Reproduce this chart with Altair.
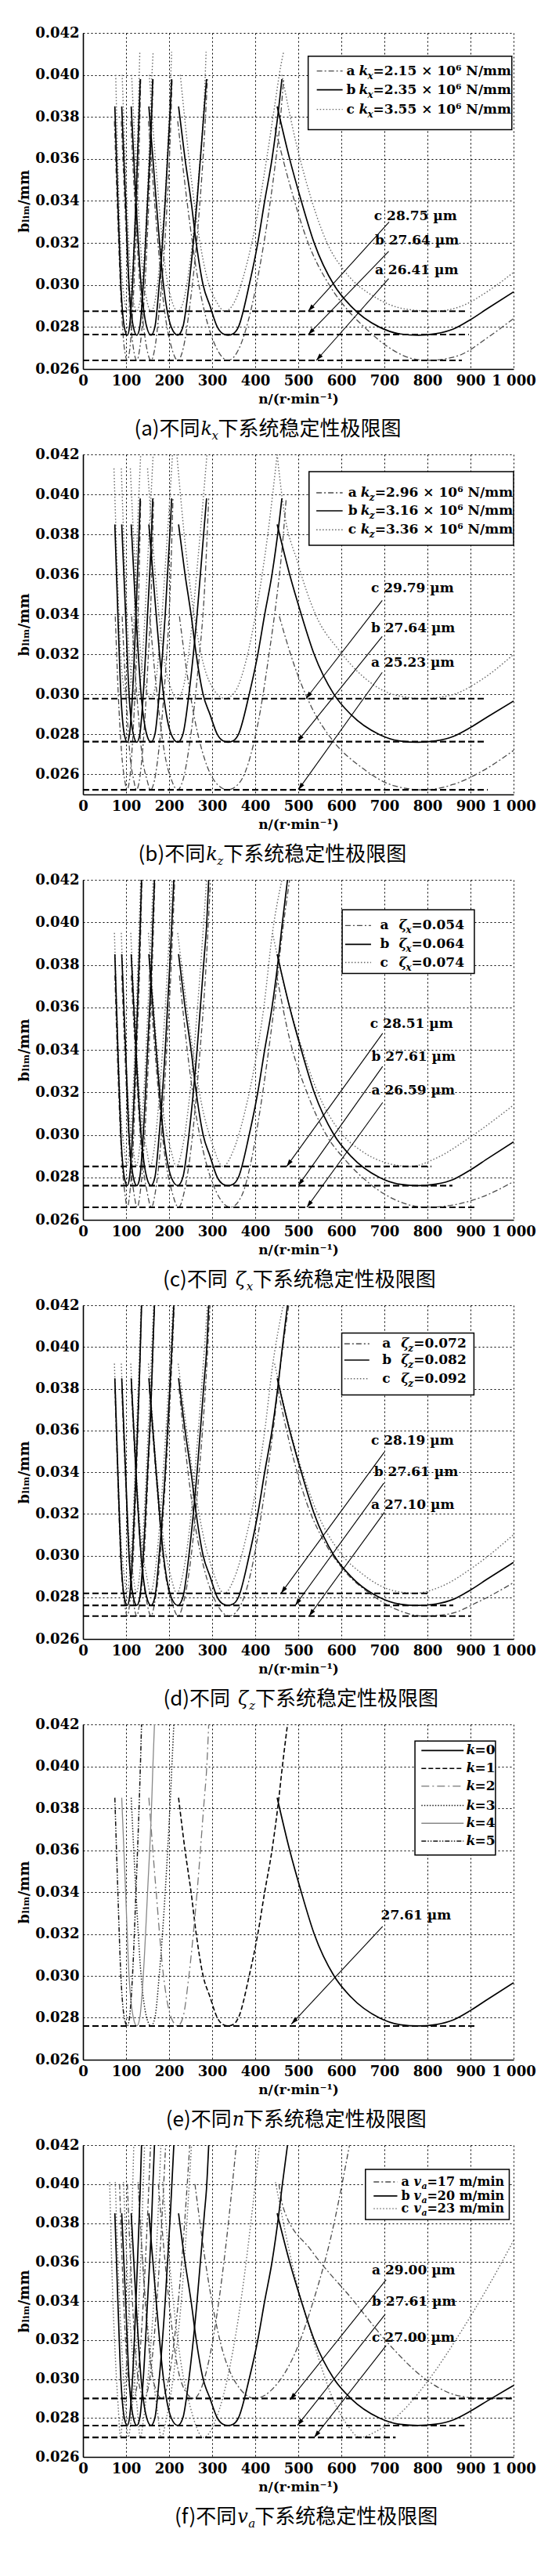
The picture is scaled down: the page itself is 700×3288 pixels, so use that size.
import math
import altair as alt
import pandas as pd

SERIF = "DejaVu Serif"
CJK = "Noto Sans CJK SC"
W = 550

N_TICKS = [0, 100, 200, 300, 400, 500, 600, 700, 800, 900, 1000]
B_TICKS = [0.026, 0.028, 0.030, 0.032, 0.034, 0.036, 0.038, 0.040, 0.042]

# ---------------- base curve (series b), identical in all panels ----------------
B_K0 = [[451, 0.0385], [480, 0.0360], [507, 0.0340], [537, 0.0320], [583, 0.0300], [622, 0.0290], [688, 0.0280],
        [737, 0.02767], [778, 0.02761], [820, 0.02768], [860, 0.0279], [900, 0.02835], [941, 0.0289], [1000, 0.02967]]
B_K1 = [[222, 0.0385], [237, 0.0360], [251, 0.0340], [263, 0.0320], [279, 0.0300], [295, 0.0290], [312, 0.0280],
        [325, 0.02768], [337, 0.02761], [349, 0.02768], [361, 0.0280], [386, 0.0300], [406, 0.0320], [422, 0.0340],
        [439, 0.0360], [455, 0.0385], [462, 0.0398], [475, 0.0420]]
B_K2 = [[153, 0.0385], [170, 0.0340], [187, 0.0300], [205, 0.0280], [220, 0.02761], [232, 0.0280], [246, 0.0300],
        [265, 0.0340], [282, 0.0385], [287, 0.0398], [292, 0.0420]]
B_K3 = [[112, 0.0385], [123, 0.0340], [135, 0.0300], [148, 0.0280], [158, 0.02761], [167, 0.0280], [177, 0.0300],
        [191, 0.0340], [203, 0.0385], [206, 0.0398], [211, 0.0420]]
B_K4 = [[90, 0.0385], [99, 0.0340], [107, 0.0300], [117, 0.0280], [125, 0.02761], [132, 0.0280], [140, 0.0300],
        [150, 0.0340], [160, 0.0385], [162, 0.0398], [166, 0.0420]]
B_K5 = [[74, 0.0385], [81, 0.0340], [88, 0.0300], [96, 0.0280], [103, 0.02761], [108, 0.0280], [115, 0.0300],
        [123, 0.0340], [131, 0.0385], [133, 0.0398], [136, 0.0420]]
B_LOBES = [B_K0, B_K1, B_K2, B_K3, B_K4, B_K5]

# ---------------- (a) different kx ----------------
KX_A = [
    [[446, 0.0375], [480, 0.0348], [523, 0.0320], [572, 0.0300], [615, 0.0288], [653, 0.0280], [720, 0.0269],
     [760, 0.02652], [800, 0.02641], [840, 0.02648], [880, 0.0267], [940, 0.0275], [1000, 0.0284]],
    [[220, 0.0378], [249, 0.0328], [265, 0.0305], [285, 0.0285], [310, 0.0270], [337, 0.02641], [363, 0.0270],
     [390, 0.0288], [410, 0.0308], [428, 0.0330], [445, 0.0355], [458, 0.0378], [466, 0.0398]],
    [[152, 0.0378], [170, 0.0330], [188, 0.0290], [206, 0.0270], [220, 0.02641], [233, 0.0270], [248, 0.0290],
     [268, 0.0330], [284, 0.0378], [289, 0.0398]],
    [[111, 0.0378], [123, 0.0330], [136, 0.0290], [148, 0.0270], [158, 0.02641], [167, 0.0270], [178, 0.0290],
     [193, 0.0330], [204, 0.0378], [207, 0.0398]],
    [[89, 0.0378], [99, 0.0330], [108, 0.0290], [117, 0.0270], [125, 0.02641], [132, 0.0270], [141, 0.0290],
     [151, 0.0330], [160, 0.0378], [163, 0.0398]],
    [[73, 0.0378], [81, 0.0330], [89, 0.0290], [96, 0.0270], [103, 0.02641], [109, 0.0270], [116, 0.0290],
     [124, 0.0330], [132, 0.0378], [134, 0.0398]],
]
KX_C = [
    [[462, 0.0400], [490, 0.0372], [520, 0.0348], [567, 0.0320], [610, 0.0306], [680, 0.0294], [750, 0.02885],
     [815, 0.02875], [880, 0.0290], [940, 0.0297], [1000, 0.0306]],
    [[226, 0.0400], [252, 0.0350], [268, 0.0325], [290, 0.0302], [310, 0.0292], [330, 0.02875], [352, 0.0292],
     [378, 0.0308], [402, 0.0330], [425, 0.0358], [445, 0.0385], [460, 0.0405], [466, 0.0411]],
    [[154, 0.0400], [172, 0.0350], [190, 0.0310], [207, 0.0292], [220, 0.02875], [233, 0.0292], [248, 0.0310],
     [268, 0.0350], [283, 0.0395], [286, 0.0411]],
    [[113, 0.0400], [125, 0.0350], [137, 0.0310], [149, 0.0292], [158, 0.02875], [167, 0.0292], [178, 0.0310],
     [193, 0.0350], [203, 0.0395], [206, 0.0411]],
    [[91, 0.0400], [100, 0.0350], [109, 0.0310], [118, 0.0292], [125, 0.02875], [132, 0.0292], [141, 0.0310],
     [151, 0.0350], [159, 0.0395], [163, 0.0411]],
    [[76, 0.0400], [82, 0.0350], [89, 0.0310], [97, 0.0292], [103, 0.02875], [109, 0.0292], [116, 0.0310],
     [124, 0.0350], [130, 0.0395], [132, 0.0411]],
]
KX_HLINES = [[0.02875, 888], [0.02764, 896], [0.02641, 880]]
KX_LABELS = [["c 28.75  µm", 676, 0.03327], ["b 27.64  µm", 678, 0.0321], ["a 26.41  µm", 678, 0.0307]]
KX_ARROWS = [[711, 0.0330, 523, 0.02875], [710, 0.0316, 523, 0.02764], [710, 0.0303, 542, 0.02641]]
KX_LEG_BOX = [523, 996, 0.04089, 0.03739]
KX_LEG_ROWS = [["a", "k", "x", "=2.15 × 10⁶ N/mm"], ["b", "k", "x", "=2.35 × 10⁶ N/mm"],
               ["c", "k", "x", "=3.55 × 10⁶ N/mm"]]
KX_LEG_B = [0.04019, 0.03929, 0.03836]
KX_LEG_N = [543, 603, 612]

# ---------------- (b) different kz ----------------
KZ_A = [
    [[456, 0.0339], [490, 0.0315], [530, 0.0294], [580, 0.0277], [650, 0.0263], [720, 0.02545], [790, 0.02523],
     [860, 0.0255], [930, 0.0262], [1000, 0.0272]],
    [[224, 0.0339], [242, 0.0310], [260, 0.0287], [282, 0.0268], [308, 0.0256], [336, 0.02523], [364, 0.0256],
     [390, 0.0270], [412, 0.0292], [432, 0.0320], [448, 0.0345], [462, 0.0372], [472, 0.0398]],
    [[155, 0.0339], [172, 0.0300], [190, 0.0270], [206, 0.0257], [219, 0.02523], [232, 0.0257], [248, 0.0276],
     [267, 0.0312], [283, 0.0355], [292, 0.0398]],
    [[113, 0.0339], [125, 0.0300], [137, 0.0270], [149, 0.0257], [157, 0.02523], [166, 0.0257], [178, 0.0276],
     [192, 0.0312], [203, 0.0355], [209, 0.0398]],
    [[91, 0.0339], [100, 0.0300], [109, 0.0270], [118, 0.0257], [124, 0.02523], [131, 0.0257], [140, 0.0276],
     [150, 0.0312], [159, 0.0355], [164, 0.0398]],
    [[75, 0.0339], [82, 0.0300], [90, 0.0270], [97, 0.0257], [102, 0.02523], [108, 0.0257], [115, 0.0276],
     [123, 0.0312], [130, 0.0355], [134, 0.0398]],
]
KZ_C = [
    [[451, 0.0420], [464, 0.0396], [500, 0.0365], [540, 0.0340], [595, 0.0322], [650, 0.0309], [720, 0.0300],
     [790, 0.02979], [860, 0.0300], [930, 0.0308], [1000, 0.0320]],
    [[218, 0.0420], [240, 0.0370], [258, 0.0340], [280, 0.0315], [305, 0.0302], [330, 0.02979], [355, 0.0302],
     [380, 0.0318], [405, 0.0345], [428, 0.0378], [451, 0.0420]],
    [[150, 0.0413], [168, 0.0360], [188, 0.0318], [206, 0.0302], [218, 0.02979], [231, 0.0302], [248, 0.0325],
     [268, 0.0370], [288, 0.0420]],
    [[110, 0.0413], [122, 0.0360], [135, 0.0318], [148, 0.0302], [157, 0.02979], [166, 0.0302], [178, 0.0325],
     [193, 0.0370], [208, 0.0420]],
    [[89, 0.0413], [98, 0.0360], [108, 0.0318], [117, 0.0302], [124, 0.02979], [131, 0.0302], [140, 0.0325],
     [151, 0.0370], [163, 0.0420]],
    [[72, 0.0413], [80, 0.0360], [88, 0.0318], [96, 0.0302], [102, 0.02979], [108, 0.0302], [116, 0.0325],
     [124, 0.0370], [134, 0.0420]],
]
KZ_HLINES = [[0.02979, 934], [0.02764, 934], [0.02523, 940]]
KZ_LABELS = [["c 29.79  µm", 669, 0.03531], ["b 27.64  µm", 669, 0.03332], ["a 25.23  µm", 669, 0.0316]]
KZ_ARROWS = [[695, 0.0347, 518, 0.02979], [695, 0.0329, 498, 0.02764], [695, 0.0311, 500, 0.02523]]
KZ_LEG_BOX = [525, 1000, 0.04114, 0.03746]
KZ_LEG_ROWS = [["a", "k", "z", "=2.96 × 10⁶ N/mm"], ["b", "k", "z", "=3.16 × 10⁶ N/mm"],
               ["c", "k", "z", "=3.36 × 10⁶ N/mm"]]
KZ_LEG_B = [0.04008, 0.03918, 0.03823]
KZ_LEG_N = [542, 603, 616]

# ---------------- (c) different zeta_x ----------------
ZX_A = [
    [[450, 0.0375], [480, 0.0345], [520, 0.0320], [565, 0.0300], [610, 0.0288], [660, 0.0278], [730, 0.0269],
     [797, 0.02659], [860, 0.0267], [930, 0.0271], [1000, 0.0278]],
    [[224, 0.0375], [245, 0.0335], [262, 0.0310], [282, 0.0290], [310, 0.0273], [343, 0.02659], [370, 0.0272],
     [391, 0.0288], [410, 0.0310], [428, 0.0335], [445, 0.0362], [460, 0.0390], [480, 0.0420]],
    [[154, 0.0375], [171, 0.0330], [189, 0.0292], [207, 0.0273], [222, 0.02659], [235, 0.0273], [250, 0.0292],
     [270, 0.0335], [286, 0.0380], [296, 0.0420]],
    [[112, 0.0375], [124, 0.0330], [136, 0.0292], [149, 0.0273], [159, 0.02659], [168, 0.0273], [179, 0.0292],
     [193, 0.0335], [205, 0.0380], [213, 0.0420]],
    [[90, 0.0375], [99, 0.0330], [108, 0.0292], [118, 0.0273], [126, 0.02659], [133, 0.0273], [141, 0.0292],
     [152, 0.0335], [161, 0.0380], [167, 0.0420]],
    [[74, 0.0375], [81, 0.0330], [89, 0.0292], [97, 0.0273], [103, 0.02659], [109, 0.0273], [116, 0.0292],
     [124, 0.0335], [132, 0.0380], [137, 0.0420]],
]
ZX_C = [
    [[440, 0.0395], [470, 0.0368], [505, 0.0343], [545, 0.0320], [595, 0.0302], [650, 0.0292], [710, 0.02865],
     [760, 0.02851], [820, 0.0289], [900, 0.0299], [1000, 0.0314]],
    [[220, 0.0395], [240, 0.0362], [257, 0.0337], [275, 0.0315], [300, 0.0296], [325, 0.02851], [350, 0.0293],
     [375, 0.0310], [398, 0.0332], [420, 0.0360], [440, 0.0395], [462, 0.0420]],
    [[152, 0.0395], [170, 0.0345], [187, 0.0310], [204, 0.0293], [217, 0.02851], [230, 0.0293], [246, 0.0315],
     [266, 0.0360], [287, 0.0420]],
    [[111, 0.0395], [123, 0.0345], [135, 0.0310], [148, 0.0293], [156, 0.02851], [165, 0.0293], [176, 0.0315],
     [191, 0.0360], [207, 0.0420]],
    [[89, 0.0395], [98, 0.0345], [107, 0.0310], [117, 0.0293], [124, 0.02851], [131, 0.0293], [140, 0.0315],
     [151, 0.0360], [163, 0.0420]],
    [[73, 0.0395], [81, 0.0345], [88, 0.0310], [96, 0.0293], [102, 0.02851], [108, 0.0293], [115, 0.0315],
     [124, 0.0360], [134, 0.0420]],
]
ZX_HLINES = [[0.02851, 809], [0.02761, 858], [0.02659, 915]]
ZX_LABELS = [["c 28.51  µm", 667, 0.03522], ["b 27.61  µm", 670, 0.03367], ["a 26.59  µm", 670, 0.03207]]
ZX_ARROWS = [[696, 0.03478, 473, 0.02851], [696, 0.03322, 500, 0.02761], [696, 0.03152, 520, 0.02659]]
ZX_LEG_BOX = [602, 909, 0.04059, 0.03759]
ZX_LEG_ROWS = [["a", "ζ", "x", "=0.054"], ["b", "ζ", "x", "=0.064"], ["c", "ζ", "x", "=0.074"]]
ZX_LEG_B = [0.03985, 0.03896, 0.03811]
ZX_LEG_N = [609, 669, 690]

# ---------------- (d) different zeta_z ----------------
ZZ_A = [
    [[452, 0.0380], [482, 0.0352], [520, 0.0325], [565, 0.0305], [610, 0.0292], [665, 0.0282], [730, 0.0274],
     [790, 0.0271], [850, 0.0272], [920, 0.0278], [1000, 0.0287]],
    [[223, 0.0380], [244, 0.0340], [261, 0.0314], [281, 0.0294], [308, 0.0278], [340, 0.0271], [368, 0.0277],
     [390, 0.0292], [409, 0.0313], [427, 0.0338], [444, 0.0364], [458, 0.0390], [478, 0.0420]],
    [[154, 0.0380], [171, 0.0335], [188, 0.0296], [206, 0.0278], [221, 0.0271], [234, 0.0278], [249, 0.0296],
     [269, 0.0338], [285, 0.0382], [295, 0.0420]],
    [[112, 0.0380], [124, 0.0335], [136, 0.0296], [148, 0.0278], [158, 0.0271], [167, 0.0278], [178, 0.0296],
     [192, 0.0338], [204, 0.0382], [212, 0.0420]],
    [[90, 0.0380], [99, 0.0335], [108, 0.0296], [117, 0.0278], [125, 0.0271], [132, 0.0278], [141, 0.0296],
     [151, 0.0338], [160, 0.0382], [166, 0.0420]],
    [[74, 0.0380], [81, 0.0335], [88, 0.0296], [96, 0.0278], [103, 0.0271], [109, 0.0278], [116, 0.0296],
     [124, 0.0338], [131, 0.0382], [136, 0.0420]],
]
ZZ_C = [
    [[445, 0.0392], [475, 0.0365], [505, 0.0343], [545, 0.0320], [595, 0.0302], [650, 0.0291], [715, 0.02835],
     [770, 0.02819], [830, 0.0285], [910, 0.0295], [1000, 0.0310]],
    [[221, 0.0392], [241, 0.0360], [258, 0.0335], [276, 0.0313], [301, 0.0293], [328, 0.02819], [353, 0.0290],
     [378, 0.0308], [400, 0.0330], [421, 0.0358], [441, 0.0392], [465, 0.0420]],
    [[152, 0.0392], [170, 0.0343], [187, 0.0308], [204, 0.0290], [218, 0.02819], [231, 0.0290], [247, 0.0312],
     [267, 0.0358], [289, 0.0420]],
    [[111, 0.0392], [123, 0.0343], [135, 0.0308], [148, 0.0290], [157, 0.02819], [166, 0.0290], [177, 0.0312],
     [192, 0.0358], [209, 0.0420]],
    [[89, 0.0392], [98, 0.0343], [107, 0.0308], [117, 0.0290], [124, 0.02819], [131, 0.0290], [140, 0.0312],
     [151, 0.0358], [164, 0.0420]],
    [[73, 0.0392], [81, 0.0343], [88, 0.0308], [96, 0.0290], [102, 0.02819], [108, 0.0290], [115, 0.0312],
     [124, 0.0358], [135, 0.0420]],
]
ZZ_HLINES = [[0.02819, 803], [0.02761, 860], [0.0271, 900]]
ZZ_LABELS = [["c 28.19  µm", 669, 0.03552], ["b 27.61  µm", 676, 0.0340], ["a 27.10  µm", 669, 0.03244]]
ZZ_ARROWS = [[700, 0.03496, 460, 0.02819], [699, 0.03348, 493, 0.02761], [700, 0.03207, 525, 0.0271]]
ZZ_LEG_BOX = [601, 908, 0.04067, 0.0377]
ZZ_LEG_ROWS = [["a", "ζ", "z", "=0.072"], ["b", "ζ", "z", "=0.082"], ["c", "ζ", "z", "=0.092"]]
ZZ_LEG_B = [0.04015, 0.03937, 0.03848]
ZZ_LEG_N = [607, 665, 695]

# ---------------- (e) different lobe number k ----------------
E_HLINES = [[0.02761, 912]]
E_LABELS = [["27.61  µm", 692, 0.03289]]
E_ARROWS = [[696, 0.03236, 484, 0.0277]]
E_LEG_BOX = [771, 958, 0.04121, 0.03577]
E_LEG_ROWS = [["", "k", "", "=0"], ["", "k", "", "=1"], ["", "k", "", "=2"], ["", "k", "", "=3"],
              ["", "k", "", "=4"], ["", "k", "", "=5"]]
E_LEG_B = [0.04075, 0.0399, 0.03905, 0.03813, 0.03728, 0.03643]
E_LEG_N = [786, 884, 890]

# ---------------- (f) different va ----------------
VA_A = [
    [[455, 0.0400], [465, 0.0388], [530, 0.0366], [625, 0.0341], [710, 0.0318], [801, 0.0299], [870, 0.02915],
     [930, 0.0290], [1000, 0.02905]],
    [[260, 0.0400], [290, 0.0352], [320, 0.0318], [355, 0.0298], [400, 0.0290], [445, 0.0296], [490, 0.0312],
     [535, 0.0340], [575, 0.0372], [619, 0.0420]],
    [[175, 0.0400], [196, 0.0348], [218, 0.0308], [240, 0.0293], [258, 0.0290], [276, 0.0296], [300, 0.0318],
     [330, 0.0365], [356, 0.0420]],
    [[128, 0.0400], [142, 0.0348], [157, 0.0308], [172, 0.0293], [183, 0.0290], [195, 0.0296], [211, 0.0318],
     [231, 0.0365], [248, 0.0420]],
    [[103, 0.0400], [113, 0.0348], [124, 0.0308], [135, 0.0293], [143, 0.0290], [152, 0.0296], [164, 0.0318],
     [179, 0.0365], [192, 0.0420]],
    [[85, 0.0400], [93, 0.0348], [102, 0.0308], [111, 0.0293], [118, 0.0290], [125, 0.0296], [134, 0.0318],
     [146, 0.0365], [157, 0.0420]],
]
VA_C = [
    [[447, 0.0401], [490, 0.0355], [533, 0.0321], [580, 0.0290], [615, 0.0276], [643, 0.0270], [680, 0.0273],
     [740, 0.0283], [801, 0.0299], [880, 0.0325], [940, 0.0347], [1000, 0.0371]],
    [[185, 0.0401], [205, 0.0350], [225, 0.0312], [250, 0.0285], [280, 0.0270], [310, 0.0280], [340, 0.0305],
     [370, 0.0345], [395, 0.0390], [410, 0.0420]],
    [[128, 0.0401], [142, 0.0350], [157, 0.0312], [172, 0.0285], [182, 0.0270], [194, 0.0280], [212, 0.0305],
     [232, 0.0350], [252, 0.0420]],
    [[94, 0.0401], [104, 0.0350], [115, 0.0312], [126, 0.0285], [133, 0.0270], [141, 0.0280], [153, 0.0305],
     [167, 0.0350], [181, 0.0420]],
    [[75, 0.0401], [83, 0.0350], [91, 0.0312], [99, 0.0285], [105, 0.0270], [112, 0.0280], [121, 0.0305],
     [132, 0.0350], [143, 0.0420]],
    [[62, 0.0401], [68, 0.0350], [75, 0.0312], [82, 0.0285], [87, 0.0270], [92, 0.0280], [100, 0.0305],
     [109, 0.0350], [118, 0.0420]],
]
VA_HLINES = [[0.0290, 996], [0.02761, 886], [0.0270, 726]]
VA_LABELS = [["a 29.00  µm", 671, 0.03557], ["b 27.61  µm", 671, 0.03396], ["c 27.00  µm", 671, 0.03211]]
VA_ARROWS = [[704, 0.03509, 481, 0.02893], [702, 0.03332, 498, 0.02761], [704, 0.03171, 537, 0.0270]]
VA_LEG_BOX = [656, 990, 0.04075, 0.03818]
VA_LEG_ROWS = [["a", "v", "a", "=17 m/min"], ["b", "v", "a", "=20 m/min"], ["c", "v", "a", "=23 m/min"]]
VA_LEG_B = [0.04011, 0.03939, 0.03874]
VA_LEG_N = [675, 730, 739]

CAPTIONS = [
    ["(a)不同", "k", "x", "下系统稳定性极限图"],
    ["(b)不同", "k", "z", "下系统稳定性极限图"],
    ["(c)不同", "ζ", "x", "下系统稳定性极限图"],
    ["(d)不同", "ζ", "z", "下系统稳定性极限图"],
    ["(e)不同", "n", "", "下系统稳定性极限图"],
    ["(f)不同", "v", "a", "下系统稳定性极限图"],
]
CAPTION_N = [272, 284, 336, 342, 345, 357]

# ---------------- styles ----------------
STY_A = {"color": "#4a4a4a", "strokeDash": [7, 3, 2, 3], "strokeWidth": 1.3}
STY_B = {"color": "#000000", "strokeWidth": 1.7}
STY_C = {"color": "#666666", "strokeDash": [1.5, 2.5], "strokeWidth": 1.4}
E_STY = [
    {"color": "#000000", "strokeWidth": 1.7},
    {"color": "#000000", "strokeDash": [6, 3], "strokeWidth": 1.6},
    {"color": "#777777", "strokeDash": [10, 4, 2, 4], "strokeWidth": 1.3},
    {"color": "#222222", "strokeDash": [1.5, 2], "strokeWidth": 1.5},
    {"color": "#888888", "strokeWidth": 1.3},
    {"color": "#111111", "strokeDash": [6, 2, 1.5, 2, 1.5, 2], "strokeWidth": 1.5},
]

AX_X = alt.Axis(values=N_TICKS, title="n/(r·min⁻¹)", grid=True, gridColor="black", gridDash=[2, 3],
                gridWidth=1, gridOpacity=1, domainColor="black", domainWidth=1.6, ticks=False,
                labelFont=SERIF, labelFontWeight="bold", labelFontSize=18, labelColor="black",
                labelPadding=6, labelFlush=False, labelOverlap=False,
                labelExpr="datum.value == 1000 ? '1 000' : datum.label",
                titleFont=SERIF, titleFontSize=17, titleFontWeight="bold", titleColor="black",
                titlePadding=6)
AX_Y = alt.Axis(values=B_TICKS, format=".3f", title="bₗᵢₘ/mm", grid=True, gridColor="black",
                gridDash=[2, 3], gridWidth=1, gridOpacity=1, domainColor="black", domainWidth=1.6,
                ticks=False, labelFont=SERIF, labelFontWeight="bold", labelFontSize=18,
                labelColor="black", labelPadding=5, labelOverlap=False,
                titleFont=SERIF, titleFontSize=18, titleFontWeight="bold", titleColor="black",
                titlePadding=4)


def X(f):
    return alt.X(f + ":Q", scale=alt.Scale(domain=[0, 1000], nice=False, zero=False), axis=AX_X)


def make_y(ymin):
    def Y(f):
        return alt.Y(f + ":Q", scale=alt.Scale(domain=[ymin, 0.042], nice=False, zero=False), axis=AX_Y)
    return Y


def lobes_layer(lobes, cap, style, Y):
    rows = []
    for k, pts in enumerate(lobes):
        for i, (n, b) in enumerate(pts):
            if b <= cap + 1e-9:
                rows.append({"lobe": k, "i": i, "n": n, "b": b})
    df = pd.DataFrame(rows)
    return alt.Chart(df).mark_line(interpolate="monotone", clip=True, **style).encode(
        x=X("n"), y=Y("b"), detail="lobe:N", order="i:Q")


def hlines_layer(rows, Y):
    df = pd.DataFrame([{"n0": 0, "n1": n1, "b": b} for b, n1 in rows])
    return alt.Chart(df).mark_rule(color="black", strokeWidth=2.1, strokeDash=[8, 4]).encode(
        x=X("n0"), x2="n1:Q", y=Y("b"))


def arrow_layers(rows, Y, ymin, H):
    ys = H / (0.042 - ymin)
    recs = []
    for n0, b0, n1, b1 in rows:
        dx = (n1 - n0) * W / 1000.0
        dyu = (b1 - b0) * ys
        ang = math.degrees(math.atan2(dx, dyu)) % 360
        recs.append({"n0": n0, "b0": b0, "n1": n1, "b1": b1, "ang": ang})
    df = pd.DataFrame(recs)
    line = alt.Chart(df).mark_rule(color="black", strokeWidth=1.1).encode(
        x=X("n0"), x2="n1:Q", y=Y("b0"), y2="b1:Q")
    head = alt.Chart(df).mark_point(shape="M0,0L-0.4,1.3L0.4,1.3Z", filled=True, color="black",
                                    opacity=1, size=200).encode(
        x=X("n1"), y=Y("b1"), angle=alt.Angle("ang:Q", scale=None))
    return [line, head]


def labels_layer(rows, Y, fs=17):
    df = pd.DataFrame([{"t": t, "n": n, "b": b} for t, n, b in rows])
    return alt.Chart(df).mark_text(align="left", baseline="middle", font=SERIF, fontWeight="bold",
                                   fontSize=fs, color="black").encode(x=X("n"), y=Y("b"), text="t:N")


def legend_layers(box, rows, row_b, nn, styles, Y, dxs, fs=17):
    out = []
    bx = pd.DataFrame([{"n0": box[0], "n1": box[1], "b0": box[2], "b1": box[3]}])
    out.append(alt.Chart(bx).mark_rect(fill="white", stroke="black", strokeWidth=1.5).encode(
        x=X("n0"), x2="n1:Q", y=Y("b0"), y2="b1:Q"))
    for st, bv in zip(styles, row_b):
        d = pd.DataFrame([{"n0": nn[0], "n1": nn[1], "b": bv}])
        out.append(alt.Chart(d).mark_rule(**st).encode(x=X("n0"), x2="n1:Q", y=Y("b")))
    df = pd.DataFrame([{"n": nn[2], "b": bv, "pre": r[0], "var": r[1], "sub": r[2], "rest": r[3]}
                       for r, bv in zip(rows, row_b)])
    specs = [("pre", dxs[0], 0, fs, "normal"), ("var", dxs[1], 0, fs, "italic"),
             ("sub", dxs[2], 6, fs - 5, "italic"), ("rest", dxs[3], 0, fs, "normal")]
    for col, dx, dy, f, sty in specs:
        out.append(alt.Chart(df).mark_text(align="left", baseline="middle", font=SERIF, fontWeight="bold",
                                           fontSize=f, fontStyle=sty, color="black", dx=dx, dy=dy).encode(
            x=X("n"), y=Y("b"), text=col + ":N"))
    return out


def caption_layers(cap, anchor, gap, H):
    pre, var, sub, rest = cap
    df = pd.DataFrame([{"n": anchor, "pre": pre, "var": var, "sub": sub, "rest": rest}])
    yv = alt.value(H + 77)
    rest_dx = gap + (23 if sub else 15)
    out = [
        alt.Chart(df).mark_text(align="right", baseline="middle", font=CJK, fontSize=26, color="black").encode(
            x=X("n"), y=yv, text="pre:N"),
        alt.Chart(df).mark_text(align="left", baseline="middle", font=SERIF, fontSize=24, fontStyle="italic",
                                color="black", dx=gap + 1).encode(x=X("n"), y=yv, text="var:N"),
        alt.Chart(df).mark_text(align="left", baseline="middle", font=SERIF, fontSize=15, fontStyle="italic",
                                color="black", dx=gap + 15, dy=8).encode(x=X("n"), y=yv, text="sub:N"),
        alt.Chart(df).mark_text(align="left", baseline="middle", font=CJK, fontSize=26, color="black",
                                dx=rest_dx).encode(x=X("n"), y=yv, text="rest:N"),
    ]
    return out


def panel(ymin, H, series, hl, labels, arrows, leg, ci, gap, leg_dx, leg_fs=17):
    Y = make_y(ymin)
    layers = []
    for lobes, c, st in series:
        layers.append(lobes_layer(lobes, c, st, Y))
    layers.append(hlines_layer(hl, Y))
    layers += arrow_layers(arrows, Y, ymin, H)
    layers.append(labels_layer(labels, Y))
    box, rows, rb, nn, styles = leg
    layers += legend_layers(box, rows, rb, nn, styles, Y, leg_dx, leg_fs)
    layers += caption_layers(CAPTIONS[ci], CAPTION_N[ci], gap, H)
    return alt.layer(*layers).properties(width=W, height=H)


ABC = [STY_A, STY_B, STY_C]
p_a = panel(0.026, 429,
            [(KX_A, 0.0398, STY_A), (KX_C, 0.0411, STY_C), (B_LOBES, 0.0398, STY_B)],
            KX_HLINES, KX_LABELS, KX_ARROWS, (KX_LEG_BOX, KX_LEG_ROWS, KX_LEG_B, KX_LEG_N, ABC),
            0, 0, [0, 16, 27, 34])
p_b = panel(0.025, 434,
            [(KZ_A, 0.0398, STY_A), (KZ_C, 0.042, STY_C), (B_LOBES, 0.0398, STY_B)],
            KZ_HLINES, KZ_LABELS, KZ_ARROWS, (KZ_LEG_BOX, KZ_LEG_ROWS, KZ_LEG_B, KZ_LEG_N, ABC),
            1, 0, [0, 16, 27, 34])
p_c = panel(0.026, 434,
            [(ZX_A, 0.042, STY_A), (ZX_C, 0.042, STY_C), (B_LOBES, 0.042, STY_B)],
            ZX_HLINES, ZX_LABELS, ZX_ARROWS, (ZX_LEG_BOX, ZX_LEG_ROWS, ZX_LEG_B, ZX_LEG_N, ABC),
            2, 9, [0, 24, 33, 40])
p_d = panel(0.026, 426,
            [(ZZ_A, 0.042, STY_A), (ZZ_C, 0.042, STY_C), (B_LOBES, 0.042, STY_B)],
            ZZ_HLINES, ZZ_LABELS, ZZ_ARROWS, (ZZ_LEG_BOX, ZZ_LEG_ROWS, ZZ_LEG_B, ZZ_LEG_N, ABC),
            3, 9, [0, 24, 33, 40])
p_e = panel(0.026, 428,
            [([B_LOBES[k]], 0.042, E_STY[k]) for k in range(6)],
            E_HLINES, E_LABELS, E_ARROWS, (E_LEG_BOX, E_LEG_ROWS, E_LEG_B, E_LEG_N, E_STY),
            4, 0, [0, 0, 10, 11])
p_f = panel(0.026, 398,
            [(VA_A, 0.042, STY_A), (VA_C, 0.042, STY_C), (B_LOBES, 0.042, STY_B)],
            VA_HLINES, VA_LABELS, VA_ARROWS, (VA_LEG_BOX, VA_LEG_ROWS, VA_LEG_B, VA_LEG_N, ABC),
            5, 0, [0, 16, 26, 33], 16)

chart = alt.vconcat(p_a, p_b, p_c, p_d, p_e, p_f, spacing=7).properties(
    padding={"left": 14, "top": 25, "right": 5, "bottom": 5},
    background="white",
).configure_view(stroke=None)

chart.save("out.html", embed_options={"renderer": "svg", "actions": False})
